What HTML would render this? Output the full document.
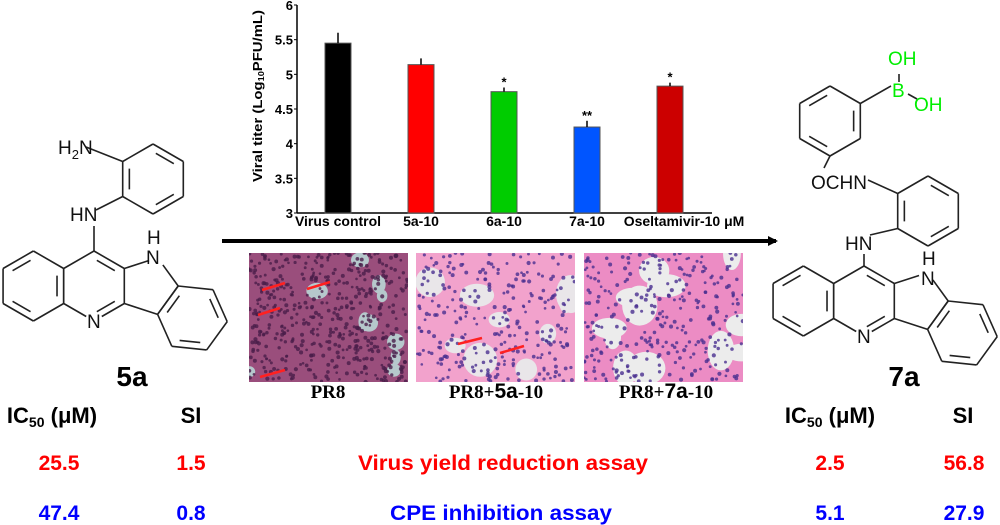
<!DOCTYPE html>
<html><head><meta charset="utf-8"><style>
html,body{margin:0;padding:0;background:#fff;}
svg{display:block;font-family:"Liberation Sans",Arial,sans-serif;}
.b{font-weight:bold;}
</style></head><body>
<svg id="s" width="1000" height="525" viewBox="0 0 1000 525" xmlns="http://www.w3.org/2000/svg">
<defs>
<marker id="ah" markerWidth="10" markerHeight="10" refX="8" refY="5" orient="auto" markerUnits="userSpaceOnUse"><path d="M0,0 L10,5 L0,10 Z" fill="#000"/></marker>
</defs>
<g id="chart"></g>
<line x1="222" y1="241" x2="776" y2="241" stroke="#000" stroke-width="4" marker-end="url(#ah)"/>
<g id="histo"></g>
<g font-family="Liberation Serif,serif" font-weight="bold" font-size="19" text-anchor="middle">
<text x="328" y="398">PR8</text>
<text x="496" y="398">PR8+<tspan font-family="Liberation Sans,sans-serif" font-size="21">5a</tspan>-10</text>
<text x="666" y="398">PR8+<tspan font-family="Liberation Sans,sans-serif" font-size="21">7a</tspan>-10</text>
</g>
<g id="mol" stroke="#222" stroke-width="1.6" fill="none"></g>
<g font-size="19" fill="#111">
<text x="58" y="154">H<tspan font-size="13" dy="5">2</tspan><tspan dy="-5">N</tspan></text>
<text x="70" y="221">HN</text>
<text x="146" y="264">N</text>
<text x="147" y="244">H</text>
<text x="87" y="328">N</text>
<text x="845" y="250">HN</text>
<text x="921" y="285">N</text>
<text x="922" y="265">H</text>
<text x="857" y="343">N</text>
<text x="839" y="189" text-anchor="middle">OCHN</text>
<text x="892" y="97" fill="#00ee00">B</text>
<text x="888" y="65" fill="#00ee00">OH</text>
<text x="914" y="111" fill="#00ee00">OH</text>
</g>
<text x="132" y="386" font-size="28" class="b" text-anchor="middle">5a</text>
<text x="904" y="386" font-size="28" class="b" text-anchor="middle">7a</text>
<g font-weight="bold" font-size="22" text-anchor="middle">
<text x="52" y="423">IC<tspan font-size="14" dy="4">50</tspan><tspan dy="-4"> (μM)</tspan></text>
<text x="191" y="423">SI</text>
<text x="830" y="423">IC<tspan font-size="14" dy="4">50</tspan><tspan dy="-4"> (μM)</tspan></text>
<text x="963" y="423">SI</text>
<g fill="#ff0000" font-size="21">
<text x="59" y="470">25.5</text>
<text x="191" y="470">1.5</text>
<text x="503" y="470" textLength="290" lengthAdjust="spacingAndGlyphs">Virus yield reduction assay</text>
<text x="830" y="470">2.5</text>
<text x="964" y="470">56.8</text>
</g>
<g fill="#0000ff" font-size="21">
<text x="59" y="520">47.4</text>
<text x="191" y="520">0.8</text>
<text x="501" y="520" textLength="222" lengthAdjust="spacingAndGlyphs">CPE inhibition assay</text>
<text x="830" y="520">5.1</text>
<text x="964" y="520">27.9</text>
</g>
</g>
</svg>
<script>
const categories = ["Virus control","5a-10","6a-10","7a-10","Oseltamivir-10 μM"];
const values = [5.45, 5.14, 4.75, 4.24, 4.83];
const errors = [0.15, 0.09, 0.06, 0.09, 0.05];
const stars = ["", "", "*", "**", "*"];
const yTicks = [3, 3.5, 4, 4.5, 5, 5.5, 6];
const yTickLabels = ["3","3.5","4","4.5","5","5.5","6"];
const colors = ["#000000","#ff0000","#00cc00","#0055ff","#cc0000"];

const NS="http://www.w3.org/2000/svg";
function mk(tag, attrs, parent){const e=document.createElementNS(NS,tag);for(const k in attrs)e.setAttribute(k,attrs[k]);parent.appendChild(e);return e;}
const chart=document.getElementById('chart');
const X0=297, X1=712, Y0=213, Y1=5;
const yScale=v=>Y0-(v-3)/(6-3)*(Y0-Y1);
const xCenter=i=>338+i*83;
const bw=26;
const ax=mk('line',{x1:X0,y1:Y1,x2:X0,y2:Y0,stroke:'#000','stroke-width':1.5},chart);


const xa=mk('line',{x1:X0,y1:Y0,x2:X1,y2:Y0,stroke:'#000','stroke-width':1.5},chart);


yTicks.forEach((t,i)=>{
  const y=yScale(t);
  const tk=mk('line',{x1:X0-3,y1:y,x2:X0,y2:y,stroke:'#000','stroke-width':1},chart);
  
  
  const tl=mk('text',{x:X0-4,y:y+5,'text-anchor':'end','font-size':13,'font-weight':'bold'},chart);
  
  
  tl.textContent=yTickLabels[i];
});
const yt=mk('text',{x:0,y:0,'text-anchor':'middle','font-size':13,'font-weight':'bold',textLength:172,lengthAdjust:'spacingAndGlyphs',transform:'translate(262,96) rotate(-90)'},chart);


yt.innerHTML='Viral titer (Log<tspan font-size="8" dy="2">10</tspan><tspan dy="-2">PFU/mL)</tspan>';
categories.forEach((c,i)=>{
  const cx=xCenter(i), top=yScale(values[i]);
  const r=mk('rect',{x:cx-bw/2,y:top,width:bw,height:Y0-top,fill:colors[i],stroke:'#555','stroke-width':1},chart);
  
  
  const e=mk('line',{x1:cx,y1:top,x2:cx,y2:yScale(values[i]+errors[i]),stroke:'#000','stroke-width':1.5},chart);
  
  
  if(stars[i]){
    const s=mk('text',{x:cx,y:yScale(values[i]+errors[i])-1,'text-anchor':'middle','font-size':13,'font-weight':'bold'},chart);
    
    
    s.textContent=stars[i];
  }
  const l=mk('text',{x:i===4?684:cx,y:226,'text-anchor':'middle','font-size':14,'font-weight':'bold'},chart);
  
  
  l.textContent=c;
});

// histology panels (decorative)
const histo=document.getElementById('histo');
let seed=7;function rnd(){seed=(seed*16807)%2147483647;return seed/2147483647;}
const panels=[{x:249,bg:'#9a4e7c',hole:'#b6c8cc',dot:'#4a1e4a',holes:10,hr:7,dots:500},{x:416,bg:'#f2a2cc',hole:'#e9e6e9',dot:'#4a3090',holes:9,hr:12,dots:280},{x:584,bg:'#ec8cc4',hole:'#ececec',dot:'#4a3090',holes:12,hr:14,dots:300}];
panels.forEach((p,pi)=>{
  const g=mk('g',{},histo);
  
  
  mk('rect',{x:p.x,y:253,width:159,height:129,fill:p.bg},g);
  const cp='cp'+pi;
  const c=mk('clipPath',{id:cp},g);mk('rect',{x:p.x,y:253,width:159,height:129},c);
  const gg=mk('g',{'clip-path':'url(#'+cp+')'},g);
  for(let k=0;k<p.holes;k++)mk('ellipse',{cx:p.x+rnd()*159,cy:253+rnd()*129,rx:p.hr*(0.6+rnd()),ry:p.hr*(0.6+rnd()),fill:p.hole},gg);
  for(let k=0;k<p.dots;k++)mk('circle',{cx:p.x+rnd()*159,cy:253+rnd()*129,r:1.3+rnd()*0.8,fill:p.dot,opacity:0.8},gg);
});
const arrows=[[262,290,285,283],[258,315,280,308],[307,289,330,282],[260,377,285,370],[458,344,482,338],[500,353,524,346]];
arrows.forEach(a=>{const l=mk('line',{x1:a[0],y1:a[1],x2:a[2],y2:a[3],stroke:'#ff2020','stroke-width':2.5},histo);
 
 });

// molecules
const mol=document.getElementById('mol');
const R=35;
function hexV(cx,cy){const v=[];for(let k=0;k<6;k++){const a=(-90+60*k)*Math.PI/180;v.push([cx+R*Math.cos(a),cy+R*Math.sin(a)]);}return v;}
function line(a,b,sa=0,sb=0){const dx=b[0]-a[0],dy=b[1]-a[1],L=Math.hypot(dx,dy);
  mk('line',{x1:a[0]+dx/L*sa,y1:a[1]+dy/L*sa,x2:b[0]-dx/L*sb,y2:b[1]-dy/L*sb},mol);}
function inner(a,b,c){const f=0.78;const m=(p)=>[c[0]+(p[0]-c[0])*f,c[1]+(p[1]-c[1])*f];const A=m(a),B=m(b);const dx=B[0]-A[0],dy=B[1]-A[1];line([A[0]+dx*0.12,A[1]+dy*0.12],[B[0]-dx*0.12,B[1]-dy*0.12]);}
function ring(cx,cy,dbl,skip=[]){const v=hexV(cx,cy);for(let k=0;k<6;k++){if(!skip.includes(k))line(v[k],v[(k+1)%6]);}dbl.forEach(k=>inner(v[k],v[(k+1)%6],[cx,cy]));return v;}
function core(mx,my){
  const m=ring(mx,my,[0],[2,3]);
  line(m[2],m[3],0,9);line(m[3],m[4],9,0);inner(m[2],m[3],[mx,my]);
  ring(mx-R*Math.sqrt(3),my,[1,3,5]);
  const pc=[mx+1.554*R,my],PR=0.851*R;
  const pv=[216,288,0,72,144].map(d=>[pc[0]+PR*Math.cos(d*Math.PI/180),pc[1]+PR*Math.sin(d*Math.PI/180)]);
  line(pv[0],pv[1],0,9);line(pv[1],pv[2],9,0);line(pv[2],pv[3]);line(pv[3],pv[4]);
  const mid=[(pv[2][0]+pv[3][0])/2,(pv[2][1]+pv[3][1])/2];
  const hc=[mid[0]+0.866*R*Math.cos(36*Math.PI/180),mid[1]+0.866*R*Math.sin(36*Math.PI/180)];
  const d=[pv[2][0]-hc[0],pv[2][1]-hc[1]];const a0=Math.atan2(d[1],d[0]);
  const hv=[];for(let k=0;k<6;k++){const a=a0+k*Math.PI/3;hv.push([hc[0]+R*Math.cos(a),hc[1]+R*Math.sin(a)]);}
  for(let k=0;k<6;k++)line(hv[k],hv[(k+1)%6]);
  [1,3,5].forEach(k=>inner(hv[k],hv[(k+1)%6],hc));
  return m;
}
let m=core(94,286);
line(m[0],[94,226]);
let ph=ring(153,179,[0,2,4]);
line([96,210],ph[4]);line([86,147],ph[5]);
m=core(864,301);
line(m[0],[864,254]);
ph=ring(928,211,[0,2,4]);
line([870,235],ph[4]);line([868,180],ph[5]);
const br=ring(830,121,[1,3,5]);
line(br[3],[824,168]);
line(br[1],[891,86]);
line([899,74],[899,82]);line([908,94],[917,99]);
</script>
</body></html>
